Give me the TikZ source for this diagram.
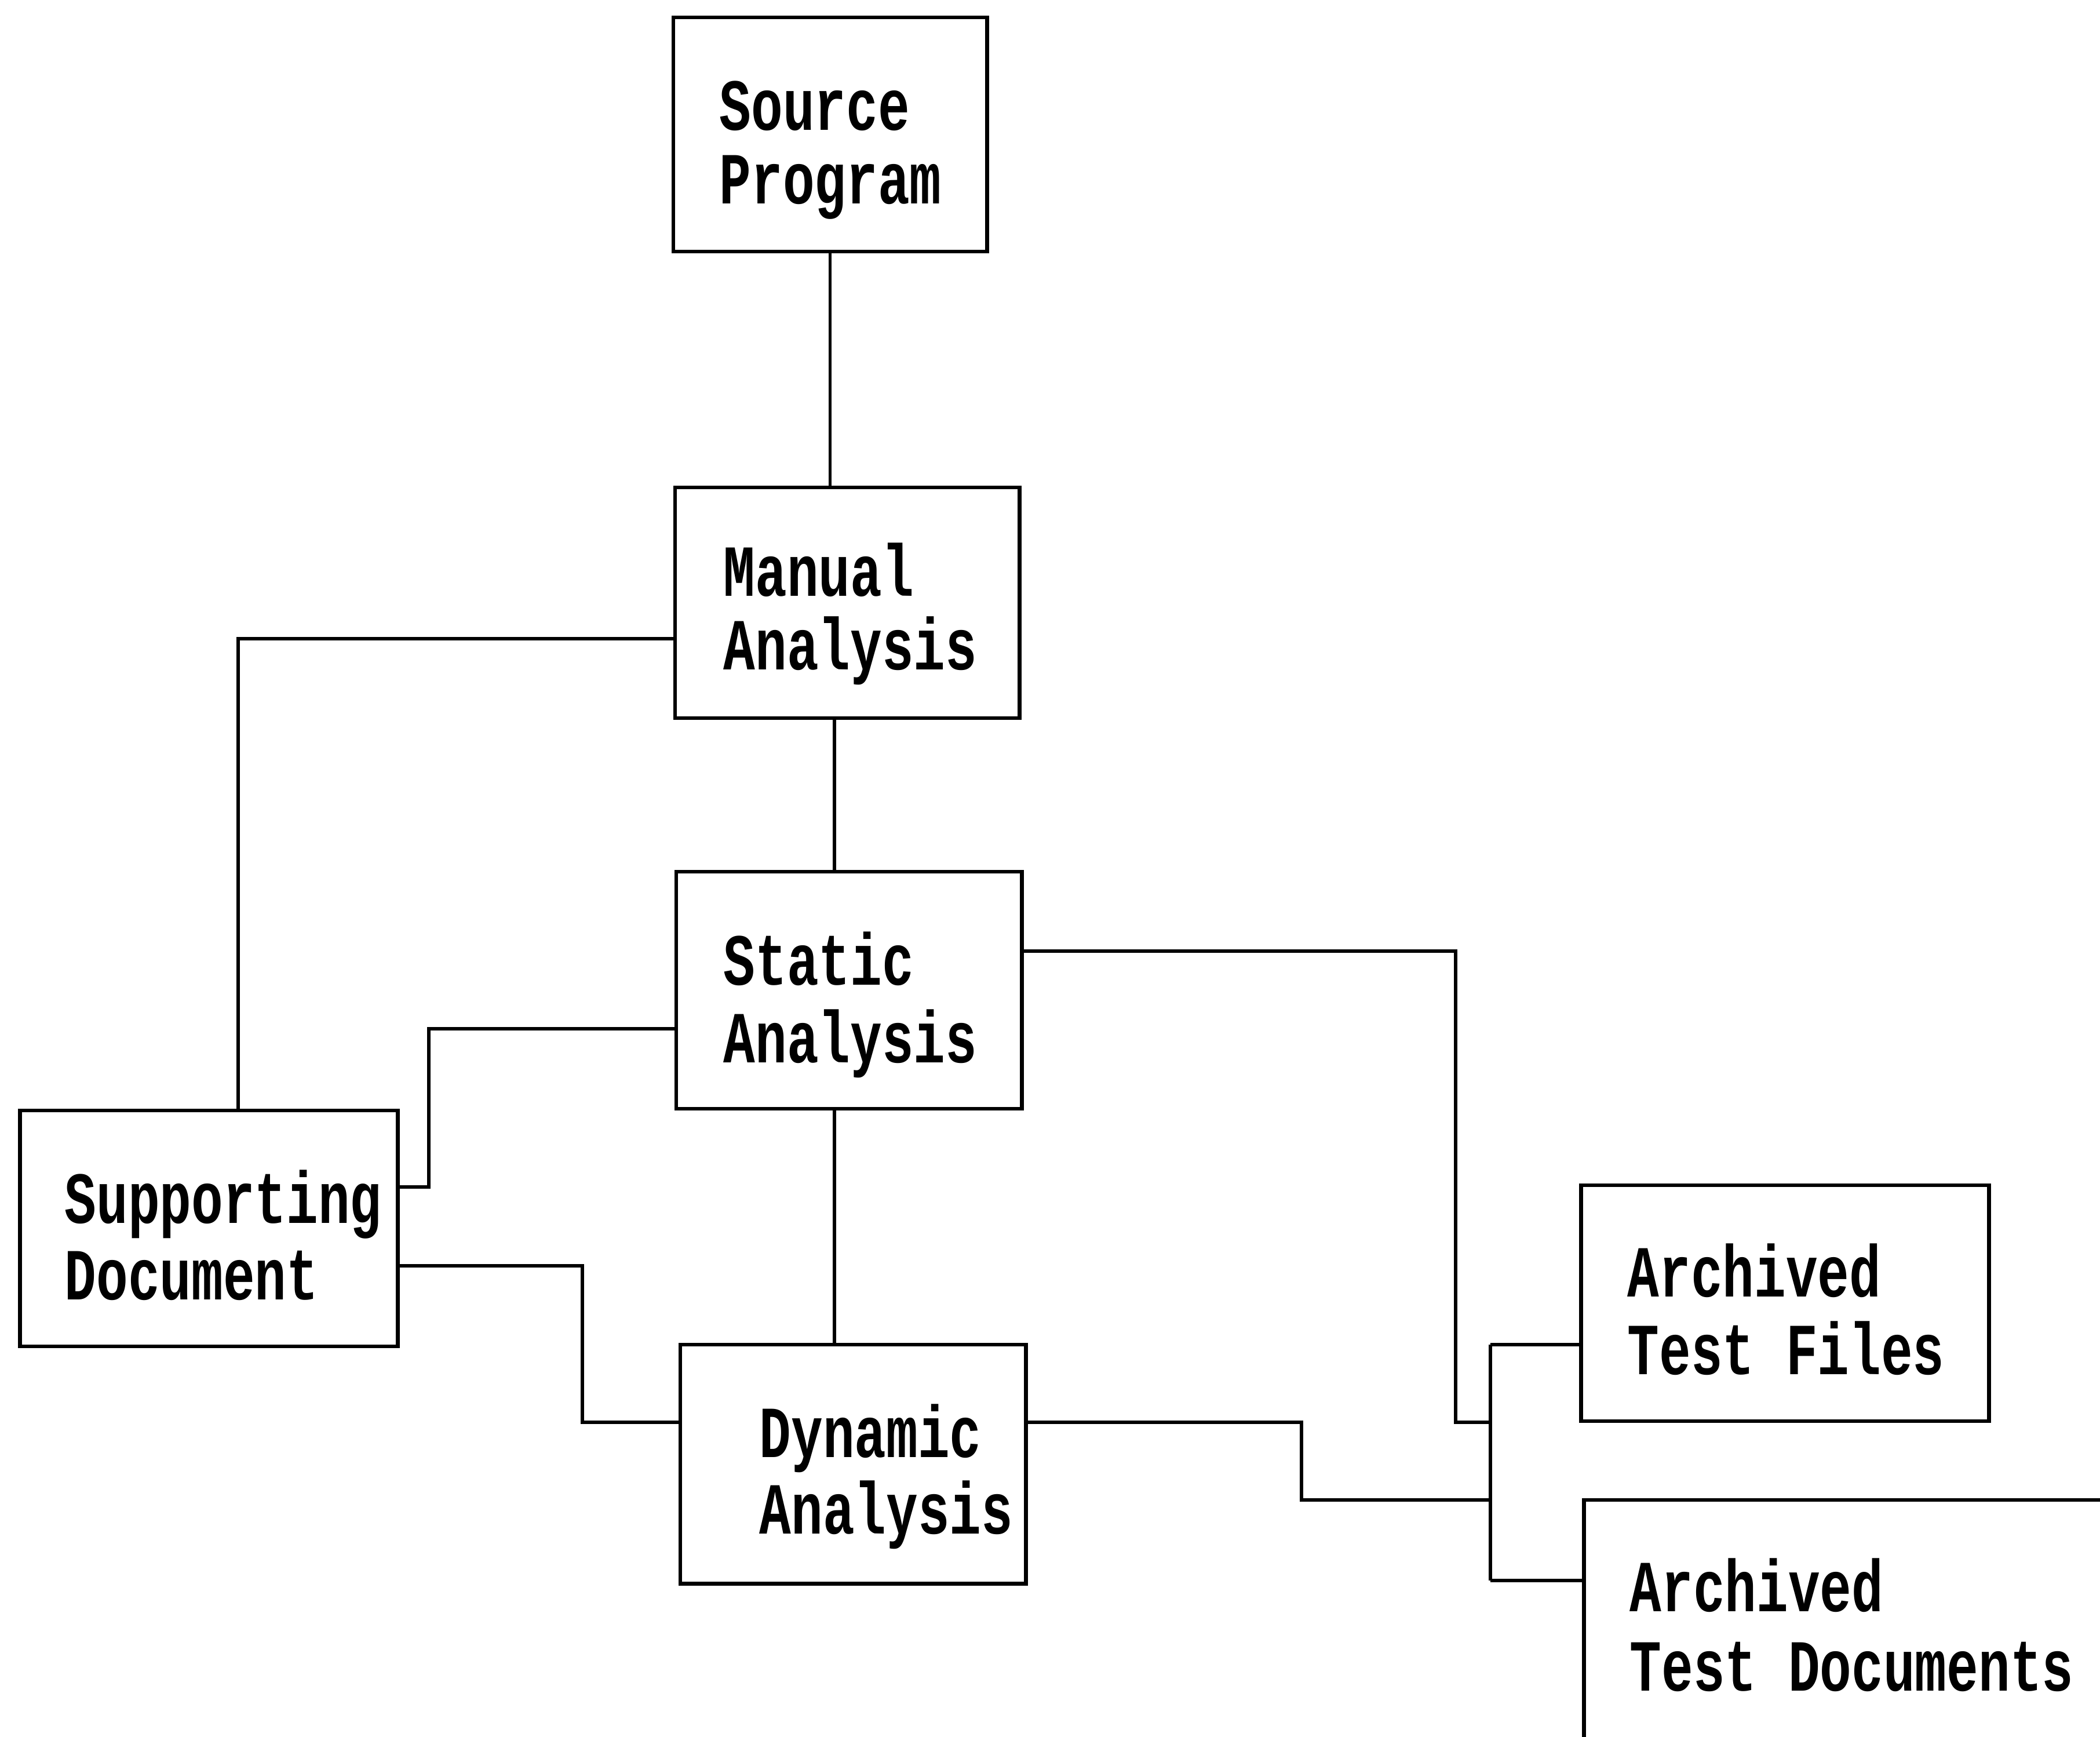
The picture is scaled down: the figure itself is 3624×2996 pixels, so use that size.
\documentclass[tikz,border=0pt]{standalone}
\usepackage{fontspec}
\newfontfamily\chartfont[FakeStretch=0.72]{Liberation Mono}
\begin{document}
\begin{tikzpicture}[x=0.01cm,y=-0.01cm,
  box/.style={draw, line width=1.9pt, rectangle, inner sep=0pt},
  lbl/.style={anchor=base west, inner sep=0pt, font=\chartfont\bfseries\fontsize{36pt}{36pt}\selectfont},
  wire/.style={line width=1.6pt}]
\useasboundingbox (0,0) rectangle (3624,2996);
\clip (0,0) rectangle (3624,2996);

% boxes (sizes in cm, 1 unit = 0.01cm, y downwards)
\node[box, minimum width=5.41cm, minimum height=4.04cm] (src) at (1432.5,232) {};
\node[box, minimum width=5.94cm, minimum height=3.98cm] (man) at (1462,1040) {};
\node[box, minimum width=5.96cm, minimum height=4.09cm] (sta) at (1465,1708.5) {};
\node[box, minimum width=5.96cm, minimum height=4.12cm] (dyn) at (1472,2526) {};
\node[box, minimum width=6.51cm, minimum height=4.07cm] (sup) at (360.5,2119.5) {};
\node[box, minimum width=7.03cm, minimum height=4.07cm] (atf) at (3080.5,2248.5) {};
\node[box, minimum width=10cm, minimum height=6cm] (atd) at (3234,2888) {};

% labels
\node[lbl] (srcA) at (1241,224) {Source};
\node[lbl] (srcB) at (1241,351) {Program};
\node[lbl] (manA) at (1248,1028) {Manual};
\node[lbl] (manB) at (1248,1155) {Analysis};
\node[lbl] (staA) at (1248,1699) {Static};
\node[lbl] (staB) at (1248,1833) {Analysis};
\node[lbl] (dynA) at (1310,2514) {Dynamic};
\node[lbl] (dynB) at (1310,2646) {Analysis};
\node[lbl] (supA) at (111,2110) {Supporting};
\node[lbl] (supB) at (111,2242) {Document};
\node[lbl] (atfA) at (2808,2237) {Archived};
\node[lbl] (atfB) at (2808,2371) {Test Files};
\node[lbl] (atdA) at (2812,2780) {Archived};
\node[lbl] (atdB) at (2812,2917) {Test Documents};

% junction points on the right-hand trunk
\coordinate (jtop) at (2572,2320);
\coordinate (jbot) at (2572,2727);

% main chain
\draw[wire] (src.south) -- (src.south |- man.north);
\draw[wire] (man.south -| 1440,0) -- (sta.north -| 1440,0);
\draw[wire] (sta.south -| 1440,0) -- (dyn.north -| 1440,0);

% links to the supporting document
\draw[wire] (man.west |- 0,1102) -| (sup.north -| 411,0);
\draw[wire] (sta.west |- 0,1775) -| (740,2048) -- (sup.east |- 0,2048);
\draw[wire] (sup.east |- 0,2184) -| (1005,2454) -- (dyn.west |- 0,2454);

% links to the archives
\draw[wire] (sta.east |- 0,1641) -| (2512,2454) -- (2572,2454);
\draw[wire] (dyn.east |- 0,2454) -| (2246,2588) -- (2572,2588);
\draw[wire] (jtop) -- (jbot);
\draw[wire] (jtop) -- (atf.west |- jtop);
\draw[wire] (jbot) -- (atd.west |- jbot);
\end{tikzpicture}
\end{document}
